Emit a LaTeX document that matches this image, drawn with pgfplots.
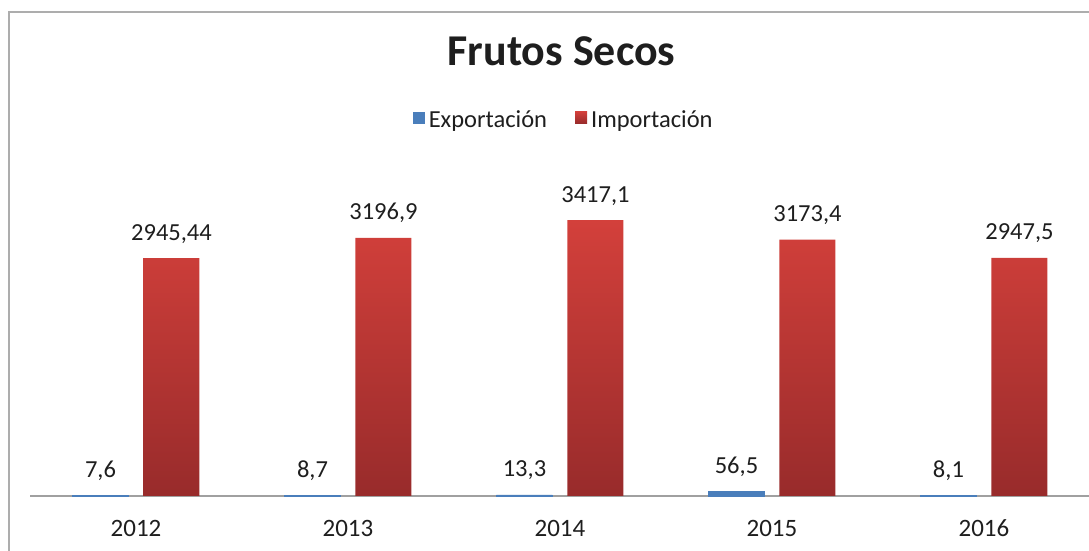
\documentclass[border=0pt]{standalone}
\usepackage{pgfplots}
\pgfplotsset{compat=1.18}
\usepackage{fontspec}
\setmainfont{Carlito}
\definecolor{expblue}{HTML}{4A7EBB}
\definecolor{imptop}{HTML}{D3403B}
\definecolor{impbot}{HTML}{982B2B}
\definecolor{txt}{HTML}{1E1E1E}
\definecolor{framec}{HTML}{ADADAD}
\definecolor{axl}{HTML}{A0A0A0}
\begin{document}
\begin{tikzpicture}[x=1pt,y=1pt]
\path[use as bounding box] (0,0) rectangle (1089,551);
\clip (0,0) rectangle (1089,551);
\draw[framec, line width=2pt] (9,-10) -- (9,539) -- (1100,539);
\node[anchor=base, font=\fontsize{44}{44}\selectfont\bfseries, text=txt] at (561.5,485) {Frutos Secos};
\begin{axis}[
  at={(30pt,55pt)}, anchor=south west,
  scale only axis, width=1060pt, height=323pt,
  xmin=-0.5, xmax=4.5, ymin=0, ymax=4000,
  ybar=15pt, bar width=56pt,
  axis x line*=bottom, axis y line=none,
  x axis line style={axl, line width=1.2pt},
  xtick={0,1,2,3,4}, xticklabels={2012,2013,2014,2015,2016},
  major tick length=0pt, ytick=\empty,
  xticklabel style={font=\fontsize{25}{25}\selectfont, text=txt, anchor=base, yshift=-41pt},
  /pgf/number format/use comma, /pgf/number format/1000 sep={},
  /pgf/number format/assume math mode=true,
  nodes near coords,
  every node near coord/.append style={font=\fontsize{24.5}{24.5}\selectfont, text=txt, anchor=base, yshift=18pt},
  legend columns=2,
  legend style={at={(0.503,1.207)}, anchor=north, draw=none, fill=none,
    font=\fontsize{24.5}{24.5}\selectfont, text=txt,
    nodes={inner xsep=1pt},
    /tikz/every even column/.append style={column sep=27pt}},
  legend image code/.code={\path[#1,draw=none] (0pt,-4pt) rectangle (12pt,8pt); \path[draw=none,fill=none,shade=false] (0pt,0pt) -- (15pt,0pt);},
  clip=false,
]
\addplot[fill=expblue, draw=expblue, line width=0.8pt] coordinates {(0,7.6) (1,8.7) (2,13.3) (3,56.5) (4,8.1)};
\addplot[draw=none, top color=imptop, bottom color=impbot] coordinates {(0,2945.44) (1,3196.9) (2,3417.1) (3,3173.4) (4,2947.5)};
\legend{Exportación, Importación}
\end{axis}
\end{tikzpicture}
\end{document}
